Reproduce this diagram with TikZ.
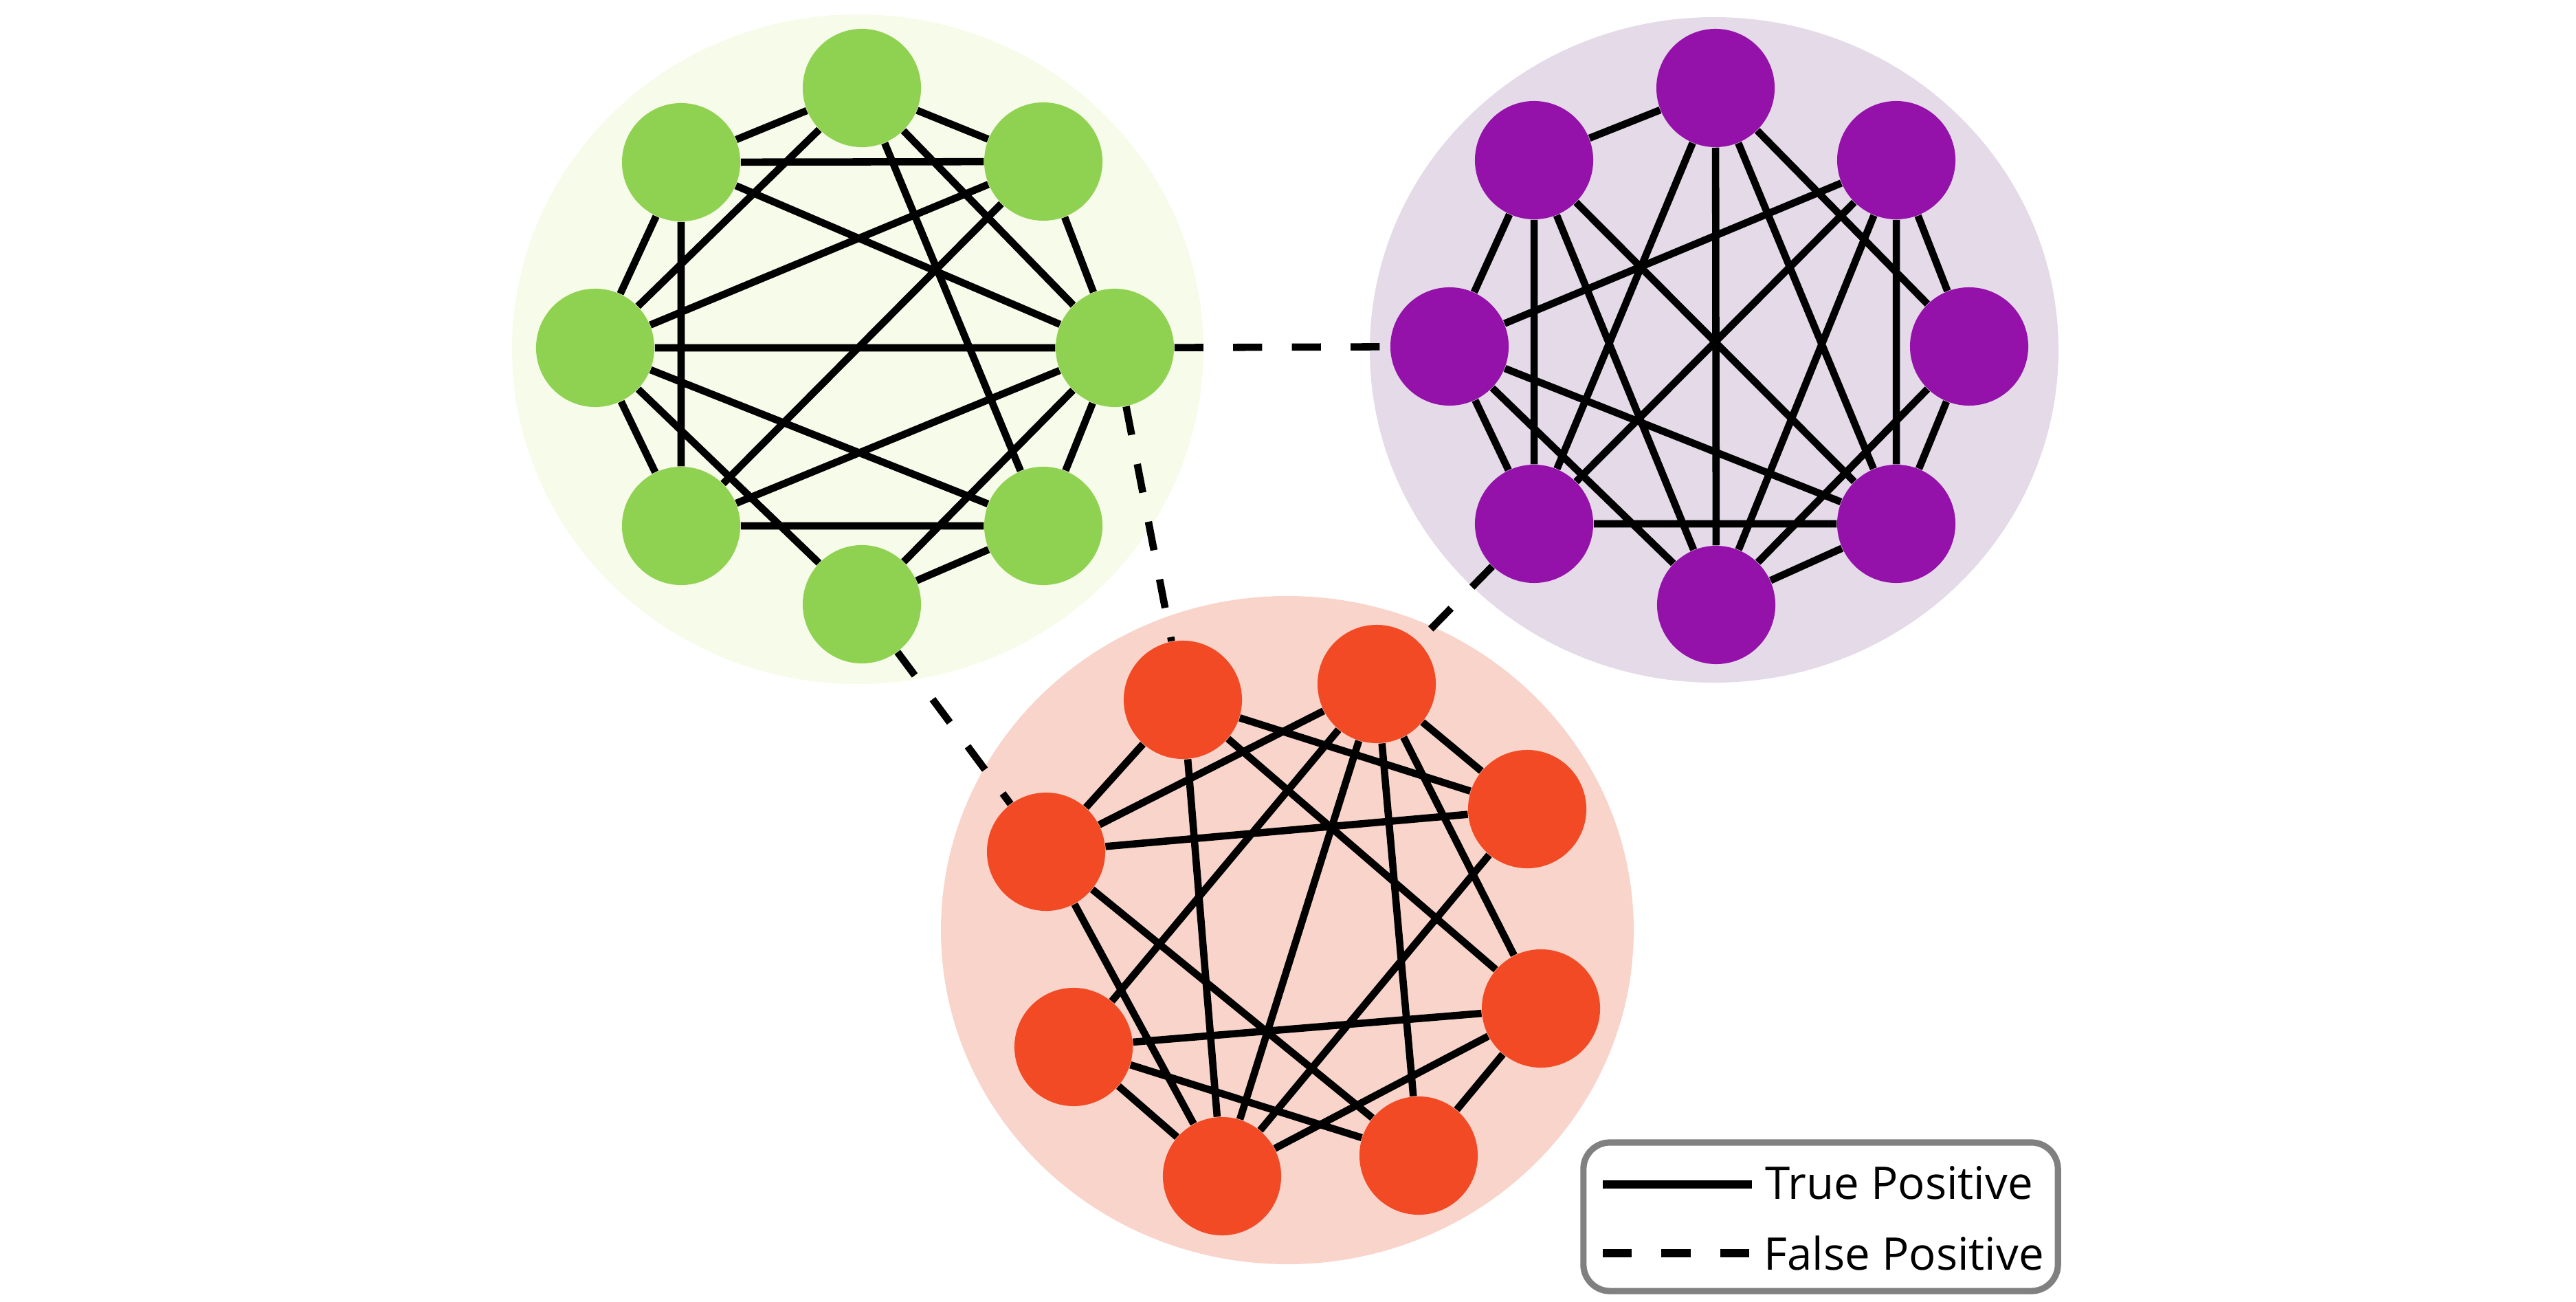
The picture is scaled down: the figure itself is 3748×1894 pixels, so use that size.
\documentclass[tikz,border=0pt]{standalone}
\usepackage{fontspec}
\setmainfont{Open Sans}
\usepackage{xcolor}
\definecolor{nodegreen}{RGB}{143,209,80}
\definecolor{bggreen}{RGB}{247,251,233}
\definecolor{nodepurple}{RGB}{148,18,170}
\definecolor{bgpurple}{RGB}{228,218,232}
\definecolor{nodered}{RGB}{242,74,37}
\definecolor{bgred}{RGB}{248,212,202}
\definecolor{legendgrey}{RGB}{128,128,128}
\pgfdeclarelayer{back}
\pgfdeclarelayer{edges}
\pgfsetlayers{back,edges,main}
\tikzset{
    vert/.style={circle, fill=#1, minimum size=1.72cm, inner sep=0pt},
    tp/.style={line width=3pt, black},
    fp/.style={line width=3pt, black, dash pattern=on 12pt off 12.3pt},
    legendbox/.style={draw=legendgrey, line width=2.6pt, rounded corners=11pt,
                      fill=white, minimum width=6.9cm, minimum height=2.16cm},
    legtext/.style={font=\fontsize{18.6}{22}\selectfont, anchor=base west,
                    inner sep=0pt},
}

\begin{document}
\begin{tikzpicture}[x=0.01cm, y=-0.01cm]
    \useasboundingbox (0,0) rectangle (3748,1894);

    % cluster discs
    \begin{pgfonlayer}{back}
        \fill[bggreen] (1248,508) ellipse [x radius=503, y radius=487];
        \fill[bgpurple] (2494,509) ellipse [x radius=501, y radius=484];
        \fill[bgred] (1873,1353) ellipse [x radius=504, y radius=486];
    \end{pgfonlayer}

    % green cluster
    \node[vert=nodegreen] (gT) at (1254,128) {};
    \node[vert=nodegreen] (gUL) at (991,236) {};
    \node[vert=nodegreen] (gUR) at (1518,235) {};
    \node[vert=nodegreen] (gL) at (866,506) {};
    \node[vert=nodegreen] (gR) at (1622,506) {};
    \node[vert=nodegreen] (gLL) at (991,765) {};
    \node[vert=nodegreen] (gLR) at (1518,765) {};
    \node[vert=nodegreen] (gB) at (1254,879) {};

    % purple cluster
    \node[vert=nodepurple] (pT) at (2496,128) {};
    \node[vert=nodepurple] (pUL) at (2232,233) {};
    \node[vert=nodepurple] (pUR) at (2759,233) {};
    \node[vert=nodepurple] (pL) at (2109,504) {};
    \node[vert=nodepurple] (pR) at (2865,504) {};
    \node[vert=nodepurple] (pLL) at (2232,762) {};
    \node[vert=nodepurple] (pLR) at (2759,762) {};
    \node[vert=nodepurple] (pB) at (2497,880) {};

    % red cluster
    \node[vert=nodered] (rA) at (1721,1018) {};
    \node[vert=nodered] (rB) at (2003,995) {};
    \node[vert=nodered] (rC) at (2222,1177) {};
    \node[vert=nodered] (rD) at (1522,1239) {};
    \node[vert=nodered] (rE) at (2242,1467) {};
    \node[vert=nodered] (rF) at (1562,1523) {};
    \node[vert=nodered] (rG) at (1778,1711) {};
    \node[vert=nodered] (rH) at (2064,1681) {};

    \begin{pgfonlayer}{edges}
        \draw[tp] (gT) -- (gUL) (gT) -- (gUR) (gT) -- (gL) (gT) -- (gR)
                  (gT) -- (gLR) (gUL) -- (gUR) (gUL) -- (gL) (gUL) -- (gLL)
                  (gUL) -- (gR) (gUR) -- (gL) (gUR) -- (gR) (gUR) -- (gLL)
                  (gL) -- (gR) (gL) -- (gLL) (gL) -- (gLR) (gL) -- (gB)
                  (gR) -- (gLL) (gR) -- (gLR) (gR) -- (gB) (gLL) -- (gLR)
                  (gLR) -- (gB);
        \draw[tp] (pT) -- (pUL) (pT) -- (pLL) (pT) -- (pB) (pT) -- (pLR)
                  (pT) -- (pR) (pUL) -- (pL) (pUL) -- (pLL) (pUL) -- (pB)
                  (pUL) -- (pLR) (pUR) -- (pL) (pUR) -- (pR) (pUR) -- (pLR)
                  (pUR) -- (pB) (pUR) -- (pLL) (pL) -- (pLL) (pL) -- (pLR)
                  (pL) -- (pB) (pR) -- (pLR) (pR) -- (pB) (pLL) -- (pLR)
                  (pLR) -- (pB);
        \draw[tp] (rA) -- (rD) (rA) -- (rC) (rA) -- (rE) (rA) -- (rG)
                  (rB) -- (rD) (rB) -- (rF) (rB) -- (rG) (rB) -- (rH)
                  (rB) -- (rC) (rB) -- (rE) (rD) -- (rC) (rD) -- (rG)
                  (rD) -- (rH) (rC) -- (rG) (rF) -- (rE) (rF) -- (rG)
                  (rF) -- (rH) (rE) -- (rG) (rE) -- (rH);
        % links between clusters
        \draw[fp] (gR) -- (pL);
        \draw[fp] (gR) -- (rA);
        \draw[fp] (gB) -- (rD);
        \draw[fp] (pLL) -- (rB);
    \end{pgfonlayer}

    % legend
    \node[legendbox] (legend) at (2649,1770) {};
    \node[legtext] (tptext) at (2568,1744) {True Positive};
    \node[legtext] (fptext) at (2566,1847) {False Positive};
    \draw[tp, line width=3.4pt] (2332,1723) -- (2549,1723);
    \draw[fp, line width=3.4pt] (2332,1823) -- (2549,1823);
\end{tikzpicture}
\end{document}
